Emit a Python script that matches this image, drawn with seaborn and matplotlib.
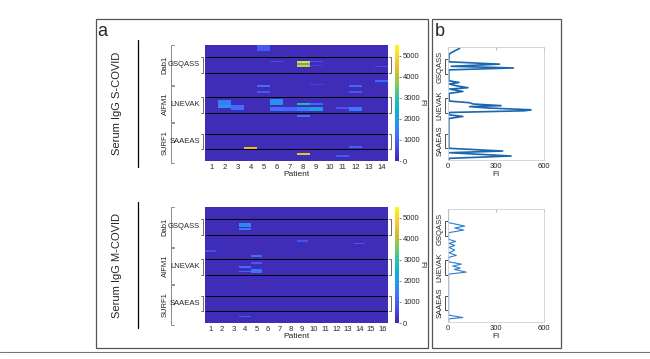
import numpy as np
import pandas as pd
import matplotlib
matplotlib.use("Agg")
import matplotlib.pyplot as plt
import matplotlib.transforms as mtransforms
from matplotlib.colors import LinearSegmentedColormap
from matplotlib.patches import Rectangle
from matplotlib.lines import Line2D
import seaborn as sns

########### data #############
n_rows = 116          # peptide positions (Dab1, AIFM1, SURF1) top to bottom
base_fi = 150         # background signal of the array

patients_s = list(range(1, 15))
patients_m = list(range(1, 17))

# S-COVID spots: patient, first row, end row, FI
s_patient = [5, 6, 8, 8, 8, 9, 9, 14, 14, 9, 5, 5, 12, 12, 2, 2, 3, 6, 6, 7,
             8, 8, 9, 9, 11, 12, 8, 12, 4, 8, 11]
s_row0 = [0, 16, 16, 18, 20, 16, 20, 21, 35, 39, 40, 46, 40, 46, 55, 60, 60, 54, 62, 62,
          58, 62, 58, 62, 62, 62, 70, 101, 102, 108, 110]
s_row1 = [6, 17, 18, 20, 22, 17, 21, 22, 37, 40, 42, 48, 42, 48, 60, 63, 65, 60, 66, 66,
          60, 66, 60, 66, 64, 66, 72, 103, 104, 110, 112]
s_fi = [900, 700, 4900, 3000, 4500, 800, 500, 700, 1100, 600, 1200, 900, 1100, 900,
        1400, 1800, 1200, 1700, 1200, 1100, 2700, 1500, 1100, 2000, 800, 1300, 1300,
        1000, 4300, 4500, 900]

# M-COVID spots
m_patient = [4, 4, 9, 14, 1, 5, 5, 4, 4, 5, 4]
m_row0 = [16, 21, 33, 36, 43, 48, 55, 59, 64, 62, 109]
m_row1 = [20, 23, 35, 37, 45, 50, 57, 61, 65, 66, 110]
m_fi = [1600, 1300, 800, 800, 700, 1200, 900, 1200, 1100, 1300, 900]

# peptide motifs and proteins (row ranges)
motif_names = ["GSQASS", "LNEVAK", "SAAEAS"]
motif_row0 = [12, 52, 89]
motif_row1 = [28, 68, 104]
protein_names = ["Dab1", "AIFM1", "SURF1"]
protein_row0 = [0, 41, 78]
protein_row1 = [40, 77, 118]

# mean FI profiles (panel b)
prof_s_row = [1.5, 3.4, 5.8, 7.5, 15.2, 17.6, 19.8, 21.5, 23.5, 34.7, 36.4, 38, 39.8,
              41.8, 43.2, 45.6, 47.7, 55.5, 57.2, 58.5, 60.2, 61.2, 62.5, 64.5, 65.5,
              67.2, 69.6, 71.3, 73.4, 104, 106.8, 108.5, 111.9, 114.3, 116]
prof_s_fi = [72, 48, 21, 6, 5, 322, 20, 409, 5, 5, 69, 8, 52, 125, 10, 93, 6, 8, 135,
             156, 332, 135, 239, 519, 477, 10, 6, 93, 5, 5, 342, 10, 394, 8, 5]
prof_m_row = [0, 14, 17.5, 19.5, 21.6, 24.3, 31.2, 33.3, 35.3, 37.4, 39.4, 42.2, 44.9,
              47.6, 49.7, 54.2, 56.6, 58.6, 60.7, 62, 64.8, 66.9, 109, 111.4, 112.8, 116]
prof_m_fi = [3, 3, 104, 42, 98, 4, 4, 48, 6, 42, 6, 42, 6, 52, 4, 4, 83, 30, 77, 40,
             114, 4, 4, 93, 4, 4]

fi_ticks = [0, 1000, 2000, 3000, 4000, 5000]
prof_ticks = [0, 300, 600]

########### style #############
sns.set_style("white")
plt.rcParams["font.family"] = ["Liberation Sans", "DejaVu Sans"]

parula = LinearSegmentedColormap.from_list(
    "parula",
    [(0.2422, 0.1504, 0.6603), (0.2803, 0.2782, 0.9221), (0.2440, 0.4358, 0.9988),
     (0.1540, 0.5902, 0.9218), (0.0297, 0.7082, 0.8163), (0.1938, 0.7758, 0.6251),
     (0.5044, 0.7993, 0.3480), (0.8634, 0.7406, 0.1596), (0.9892, 0.8136, 0.1885),
     (0.9769, 0.9839, 0.0805)],
)

W, H = 650, 359
fig = plt.figure(figsize=(W / 100, H / 100), dpi=100)
fig.patch.set_facecolor("white")


def px_axes(x0, y0, x1, y1):
    return fig.add_axes([x0 / W, 1 - y1 / H, (x1 - x0) / W, (y1 - y0) / H])


def build_matrix(patients, pat, r0, r1, fi):
    mat = np.full((n_rows, len(patients)), float(base_fi))
    for p, a, b, v in zip(pat, r0, r1, fi):
        mat[a:b, p - 1] = v
    return pd.DataFrame(mat, columns=patients)


def bracket(ax, x_line, x_tip, a, b, color="#555555", lw=0.6):
    tr = mtransforms.blended_transform_factory(ax.transAxes, ax.transData)
    ax.plot([x_tip, x_line, x_line, x_tip], [a, a, b, b], transform=tr,
            color=color, lw=lw, clip_on=False, solid_joinstyle="miter")


# Heatmap panel
def plot_heat(box, patients, df, title, line_rows):
    x0, y0, x1, y1 = box
    ax = px_axes(x0, y0, x1, y1)
    cax = px_axes(x1 + 7, y0, x1 + 11, y1)
    sns.heatmap(df, ax=ax, cmap=parula, vmin=0, vmax=5500, cbar_ax=cax,
                xticklabels=patients, yticklabels=False,
                cbar_kws={"ticks": fi_ticks})
    ax.tick_params(axis="x", length=0, pad=2, labelsize=5.5, labelrotation=0)
    ax.set_xlabel("Patient", fontsize=6, labelpad=0)
    ax.set_ylabel("")

    cb = ax.collections[0].colorbar
    cb.outline.set_visible(False)
    cax.tick_params(labelsize=5.5, length=1.5, width=0.4, pad=1.5)
    cax.set_ylabel("FI", rotation=270, fontsize=6, labelpad=4)

    fx = lambda px: (px - x0) / (x1 - x0)
    tr = mtransforms.blended_transform_factory(ax.transAxes, ax.transData)

    for name, a, b in zip(motif_names, motif_row0, motif_row1):
        ax.hlines([a, b], 0, len(patients), color="black", lw=0.7)
        bracket(ax, fx(x0 - 2), fx(x0 - 4.5), a, b)
        bracket(ax, fx(x1 + 3), fx(x1 + 0.5), a, b)
        ax.text(fx(x0 - 5), (a + b) / 2, name, transform=tr, ha="right",
                va="center", fontsize=5.5)

    for name, a, b in zip(protein_names, protein_row0, protein_row1):
        bracket(ax, fx(171), fx(173.5), a, min(b, n_rows + 6), color="#777777")
        ax.text(fx(165), (a + b) / 2, name, transform=tr, rotation=90,
                ha="center", va="center", fontsize=5.5)

    ax.plot([fx(138), fx(138)], line_rows, transform=tr, color="black", lw=0.9,
            clip_on=False)
    ax.text(fx(117), n_rows / 2, title, transform=tr, rotation=90,
            ha="center", va="center", fontsize=8)
    return ax


df_s = build_matrix(patients_s, s_patient, s_row0, s_row1, s_fi)
df_m = build_matrix(patients_m, m_patient, m_row0, m_row1, m_fi)

plot_heat((205, 45, 388, 161), patients_s, df_s, "Serum IgG S-COVID", [-5, 122])
plot_heat((205, 207, 388, 323), patients_m, df_m, "Serum IgG M-COVID", [-5, 121])


# Profile panel
def plot_profile(box, rows, fi, lw, color):
    x0, y0, x1, y1 = box
    ax = px_axes(x0, y0, x1, y1)
    sns.lineplot(x=fi, y=rows, sort=False, estimator=None, ax=ax,
                 color=color, lw=lw)
    ax.set_ylim(n_rows, 0)
    ax.set_xlim(0, 600)
    ax.set_xticks(prof_ticks)
    ax.set_yticks([])
    ax.tick_params(axis="x", labelsize=5.5, length=2, direction="in",
                   color="#bbbbbb", pad=2, top=True)
    ax.set_xlabel("FI", fontsize=6, labelpad=1)
    ax.set_ylabel("")
    for s in ax.spines.values():
        s.set_color("#cfcfcf")
        s.set_linewidth(0.6)

    gx = lambda px: (px - x0) / (x1 - x0)
    tr = mtransforms.blended_transform_factory(ax.transAxes, ax.transData)
    for name, a, b in zip(motif_names, motif_row0, motif_row1):
        bracket(ax, gx(445.3), gx(447.7), a, b, color="#333333", lw=0.6)
        ax.text(gx(440), (a + b) / 2, name, transform=tr, rotation=90,
                ha="center", va="center", fontsize=5.5)
    return ax


plot_profile((448, 47, 544, 160), prof_s_row, prof_s_fi, 1.2, "#1a66b0")
plot_profile((448, 209, 544, 322), prof_m_row, prof_m_fi, 0.8, "#2a7fcf")

# panel frames and labels
for x0, x1 in [(96, 428), (432, 561)]:
    fig.add_artist(Rectangle((x0 / W, 1 - 348 / H), (x1 - x0) / W, (348 - 19) / H,
                             transform=fig.transFigure, fill=False,
                             ec="#555555", lw=0.9))
fig.add_artist(Line2D([0, 1], [1 - 351.5 / H, 1 - 351.5 / H],
                      transform=fig.transFigure, color="#777777", lw=0.8))
fig.text(97 / W, 1 - 31 / H, "a", fontsize=13, ha="left", va="center")
fig.text(435 / W, 1 - 31 / H, "b", fontsize=13, ha="left", va="center")

fig.savefig("out.png", dpi=100, facecolor="white")
